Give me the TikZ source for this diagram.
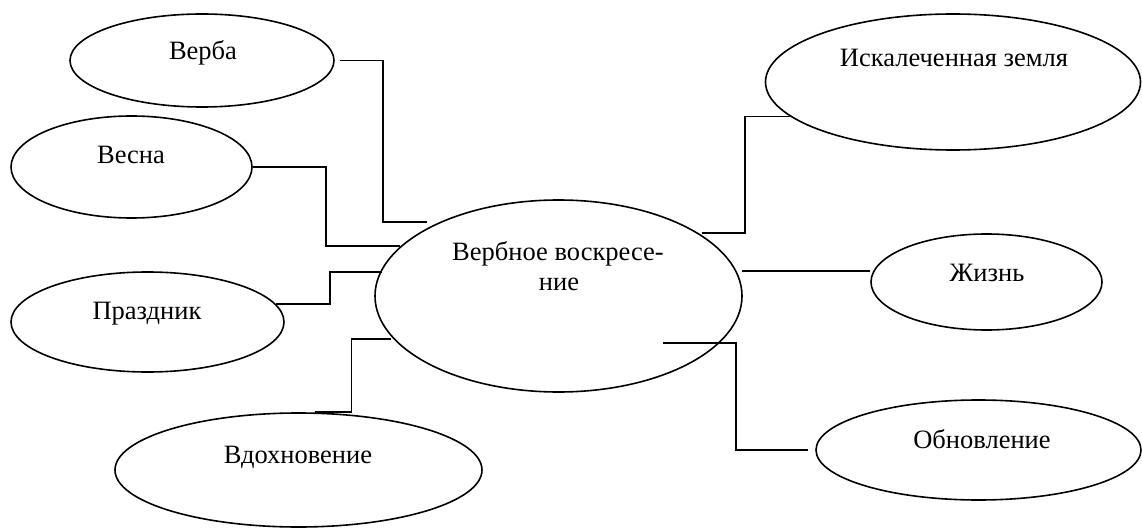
\documentclass[tikz,border=0pt]{standalone}
\usepackage{fontspec}
\setmainfont{Liberation Serif}
\usetikzlibrary{shapes.geometric}
\tikzset{
  ell/.style={draw=black, line width=1.6pt, ellipse, inner sep=0pt},
  lbl/.style={anchor=base, inner sep=0pt, font=\fontsize{26.5}{30}\selectfont},
  conn/.style={draw=black, line width=1.6pt}
}
\begin{document}
\begin{tikzpicture}[x=1pt,y=-1pt]
\useasboundingbox (0,0) rectangle (1142,529);
% ellipses
\node[ell, minimum width=264pt, minimum height=93pt] (verba) at (202,60.5) {};
\node[ell, minimum width=241pt, minimum height=102pt] (vesna) at (131.5,167) {};
\node[ell, minimum width=273pt, minimum height=100pt] (prazdnik) at (147.5,322) {};
\node[ell, minimum width=367pt, minimum height=114pt] (vdoh) at (298.5,470) {};
\node[ell, minimum width=367pt, minimum height=192pt] (center) at (558.5,296) {};
\node[ell, minimum width=375pt, minimum height=136pt] (iskal) at (953,82) {};
\node[ell, minimum width=231pt, minimum height=96pt] (zhizn) at (986.5,282) {};
\node[ell, minimum width=325pt, minimum height=100pt] (obnov) at (978.5,450) {};
% labels
\node[lbl] (verbaT) at (203,60) {Верба};
\node[lbl] (vesnaT) at (131,164) {Весна};
\node[lbl] (prazdnikT) at (147,319) {Праздник};
\node[lbl] (vdohT) at (298,463) {Вдохновение};
\node[lbl] (centerT1) at (558,260) {Вербное воскресе-};
\node[lbl] (centerT2) at (559,290) {ние};
\node[lbl] (iskalT) at (954,67) {Искалеченная земля};
\node[lbl] (zhiznT) at (987,281) {Жизнь};
\node[lbl] (obnovT) at (982,448) {Обновление};
% connector ends near the central ellipse
\coordinate (eVerba) at (427,222);
\coordinate (eVesna) at (400,246);
\coordinate (ePrazd) at (382,272);
\coordinate (eVdoh) at (391,339);
\coordinate (eIskal) at (702,233);
\coordinate (eZhizn) at (742,271);
\coordinate (eObnov) at (663,343);
% connectors
\draw[conn] ([xshift=5pt]verba.east) -- ++(43,0) |- (eVerba);
\draw[conn] (vesna.east) -- ++(73,0) |- (eVesna);
\draw[conn] (prazdnik.8.5) -- ++(54,0) |- (ePrazd);
\draw[conn] ([xshift=16pt]vdoh.north) -- ++(37,0) |- (eVdoh);
\draw[conn] (iskal.192) -- ++(-45,0) |- (eIskal);
\draw[conn] (eZhizn) -- (eZhizn -| zhizn.west);
\draw[conn] (eObnov) -- ++(73,0) |- ([xshift=-7pt]obnov.west);
\end{tikzpicture}
\end{document}
